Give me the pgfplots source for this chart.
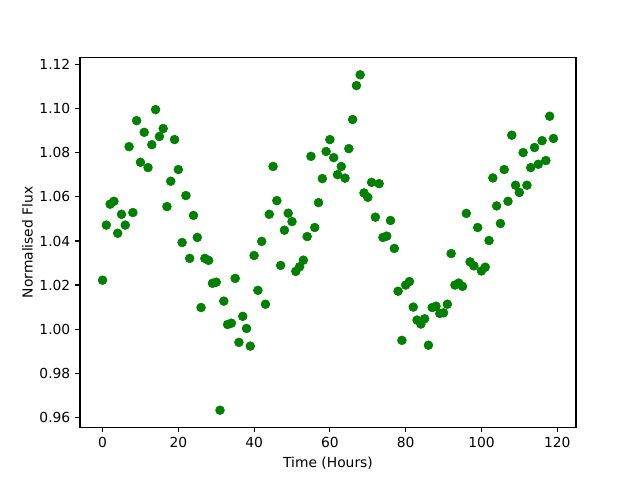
\documentclass[border=0pt]{standalone}
\usepackage{pgfplots}
\pgfplotsset{compat=1.18}
\usepackage{fontspec}
\setmainfont{DejaVu Sans}
\definecolor{mplgreen}{rgb}{0,0.5,0}
\begin{document}
\begin{tikzpicture}
\path[use as bounding box] (-0.8in,-0.528in) rectangle (5.6in,4.272in);
\begin{axis}[
  at={(0,0)}, anchor=south west,
  scale only axis,
  width=4.96in, height=3.696in,
  xmin=-5.95, xmax=124.95,
  ymin=0.9555, ymax=1.1232,
  xtick={0,20,40,60,80,100,120},
  ytick={0.96,0.98,1.00,1.02,1.04,1.06,1.08,1.10,1.12},
  yticklabel style={/pgf/number format/.cd,fixed,fixed zerofill,precision=2},
  /pgf/number format/assume math mode=true,
  tick align=outside,
  xtick pos=left, ytick pos=left,
  major tick length=3.5pt,
  every tick/.style={black, line width=0.8pt},
  axis line style={line width=0.8pt},
  tick label style={font=\fontsize{10}{12}\selectfont},
  label style={font=\fontsize{10}{12}\selectfont},
  xlabel={Time (Hours)},
  ylabel={Normalised Flux},
  xlabel style={yshift=0pt},
  ylabel style={yshift=-2pt},
]
\addplot[only marks, mark=*, mark size=3.2pt, color=mplgreen] table {
x y
0 1.0222
1 1.0472
2 1.0567
3 1.0580
4 1.0435
5 1.0521
6 1.0472
7 1.0828
8 1.0529
9 1.0946
10 1.0757
11 1.0893
12 1.0733
13 1.0837
14 1.0996
15 1.0874
16 1.0910
17 1.0556
18 1.0671
19 1.0860
20 1.0724
21 1.0393
22 1.0606
23 1.0321
24 1.0516
25 1.0416
26 1.0098
27 1.0321
28 1.0312
29 1.0208
30 1.0213
31 0.9632
32 1.0127
33 1.0021
34 1.0027
35 1.0230
36 0.9940
37 1.0058
38 1.0003
39 0.9923
40 1.0334
41 1.0176
42 1.0398
43 1.0113
44 1.0521
45 1.0738
46 1.0583
47 1.0289
48 1.0449
49 1.0526
50 1.0488
51 1.0262
52 1.0283
53 1.0313
54 1.0420
55 1.0784
56 1.0461
57 1.0574
58 1.0683
59 1.0806
60 1.0860
61 1.0778
62 1.0701
63 1.0738
64 1.0685
65 1.0819
66 1.0951
67 1.1105
68 1.1154
69 1.0618
70 1.0598
71 1.0666
72 1.0508
73 1.0660
74 1.0416
75 1.0422
76 1.0493
77 1.0366
78 1.0172
79 0.9949
80 1.0200
81 1.0216
82 1.0100
83 1.0041
84 1.0023
85 1.0047
86 0.9927
87 1.0098
88 1.0104
89 1.0071
90 1.0074
91 1.0113
92 1.0343
93 1.0200
94 1.0209
95 1.0194
96 1.0525
97 1.0305
98 1.0287
99 1.0461
100 1.0264
101 1.0281
102 1.0402
103 1.0686
104 1.0559
105 1.0479
106 1.0724
107 1.0580
108 1.0880
109 1.0653
110 1.0620
111 1.0801
112 1.0653
113 1.0733
114 1.0824
115 1.0748
116 1.0855
117 1.0765
118 1.0966
119 1.0865
};
\end{axis}
\end{tikzpicture}
\end{document}
